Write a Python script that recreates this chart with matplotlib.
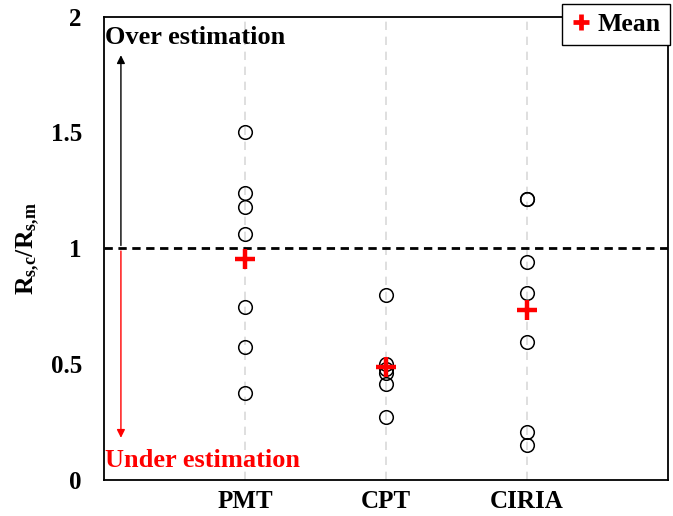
import matplotlib
matplotlib.use("Agg")
import matplotlib.pyplot as plt
from matplotlib.lines import Line2D
import numpy as np

plt.rcParams['font.family'] = ['Liberation Serif', 'DejaVu Serif']
plt.rcParams['font.weight'] = 'bold'
plt.rcParams['mathtext.fontset'] = 'custom'
plt.rcParams['mathtext.rm'] = 'Liberation Serif:bold'
plt.rcParams['mathtext.it'] = 'Liberation Serif:bold'
plt.rcParams['mathtext.bf'] = 'Liberation Serif:bold'

categories = ['PMT', 'CPT', 'CIRIA']
pmt = [1.50, 1.238, 1.178, 1.063, 0.747, 0.575, 0.374]
cpt = [0.80, 0.50, 0.48, 0.46, 0.415, 0.27]
ciria = [1.214, 1.214, 0.941, 0.805, 0.594, 0.208, 0.151]
series = [pmt, cpt, ciria]
means = [np.mean(s) for s in series]

fig = plt.figure(figsize=(6.73, 5.16), dpi=100)
ax = fig.add_axes([104/673, 1-480/516, (668-104)/673, (480-16.5)/516])

xpos = [1, 2, 3]
for x, s in zip(xpos, series):
    ax.plot([x]*len(s), s, linestyle='none', marker='o', markersize=9.8,
            markerfacecolor='none', markeredgecolor='black', markeredgewidth=1.1, zorder=3)
ax.plot(xpos, means, linestyle='none', marker='+', markersize=14, markeredgewidth=3.2,
        color='#ff0000', zorder=4)

ax.set_xlim(0, 4.0)
ax.set_ylim(0, 2)
ax.set_xticks(xpos)
ax.set_xticklabels(categories, fontsize=18, fontweight='bold')
ax.set_yticks([0, 0.5, 1, 1.5, 2])
ax.set_yticklabels(['0', '0.5', '1', '1.5', '2'], fontsize=18, fontweight='bold')
ax.tick_params(axis='x', length=0, pad=7)
ax.tick_params(axis='y', length=0, pad=16)
for x in xpos:
    ax.axvline(x, color='#d9d9d9', linestyle=(0, (5, 4)), linewidth=1.2, zorder=1)
ax.axhline(1, color='black', linestyle=(0, (3, 2)), linewidth=2.0, zorder=2)
for sp in ax.spines.values():
    sp.set_linewidth(1.3)

ax.set_ylabel(r'$\mathbf{R_{s{,}c}/R_{s{,}m}}$', fontsize=18.5, labelpad=6)

ax.annotate('', xy=(0.12, 1.845), xytext=(0.12, 1.0),
            arrowprops=dict(arrowstyle='-|>', color='black', lw=1.0, mutation_scale=12))
ax.annotate('', xy=(0.12, 0.17), xytext=(0.12, 1.0),
            arrowprops=dict(arrowstyle='-|>', color='#ff0000', lw=1.0, mutation_scale=12))
ax.text(0.01, 1.91, 'Over estimation', fontsize=19, fontweight='bold', color='black',
        va='center', ha='left')
ax.text(0.01, 0.082, 'Under estimation', fontsize=19, fontweight='bold', color='#ff0000',
        va='center', ha='left')

handle = Line2D([], [], linestyle='none', marker='+', markersize=11, markeredgewidth=3.4,
                color='#ff0000')
leg = fig.legend([handle], ['Mean'], loc='upper right',
                 bbox_to_anchor=(670/673, 1-4/516), fontsize=18.5,
                 frameon=True, fancybox=False, handlelength=0.8, handletextpad=0.25,
                 borderpad=0.35, borderaxespad=0)
leg.get_frame().set_edgecolor('black')
leg.get_frame().set_linewidth(1.0)
leg.get_frame().set_alpha(1)
for t in leg.get_texts():
    t.set_fontweight('bold')

fig.savefig('out.png', dpi=100)
